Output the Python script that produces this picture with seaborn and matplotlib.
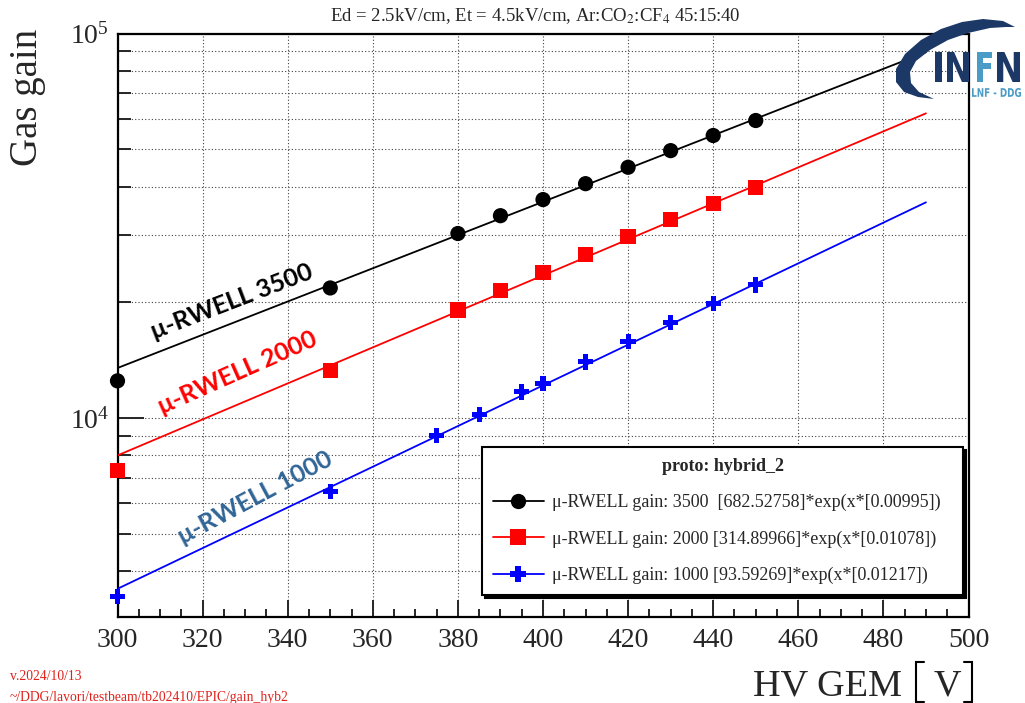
import numpy as np
import pandas as pd
import matplotlib
matplotlib.use("Agg")
import matplotlib.pyplot as plt
import seaborn as sns
from matplotlib.lines import Line2D
from matplotlib.patches import Polygon, PathPatch
from matplotlib.textpath import TextPath
from matplotlib.font_manager import FontProperties
from matplotlib.transforms import Affine2D
from matplotlib.ticker import LogLocator, NullFormatter, MultipleLocator

# ---------------- data ----------------
series_names = ["3500", "2000", "1000"]
x_3500 = [300, 350, 380, 390, 400, 410, 420, 430, 440, 450]
g_3500 = [12500, 21800, 30200, 33600, 37000, 40700, 44900, 49600, 54300, 59400]
x_2000 = [300, 350, 380, 390, 400, 410, 420, 430, 440, 450]
g_2000 = [7300, 13300, 19100, 21500, 23900, 26600, 29600, 32800, 36100, 39700]
x_1000 = [300, 350, 375, 385, 395, 400, 410, 420, 430, 440, 450]
g_1000 = [3430, 6460, 9000, 10200, 11700, 12300, 14000, 15800, 17700, 19900, 22200]

fit_x = [300, 490]
fit_3500 = [13500, 89400]
fit_2000 = [8000, 62000]
fit_1000 = [3600, 36400]

legend_labels = [
    "\u03bc-RWELL gain: 3500  [682.52758]*exp(x*[0.00995])",
    "\u03bc-RWELL gain: 2000 [314.89966]*exp(x*[0.01078])",
    "\u03bc-RWELL gain: 1000 [93.59269]*exp(x*[0.01217])",
]
title_text = r"Ed = 2.5kV/cm, Et = 4.5kV/cm, Ar:CO$_2$:CF$_4$ 45:15:40"
x_ticks = list(range(300, 501, 20))

colors = {"3500": "black", "2000": "#ff0000", "1000": "#0000ff"}
markers = {"3500": "o", "2000": "s", "1000": "P"}

pts = pd.concat([
    pd.DataFrame({"HV": x_3500, "gain": g_3500, "det": "3500"}),
    pd.DataFrame({"HV": x_2000, "gain": g_2000, "det": "2000"}),
    pd.DataFrame({"HV": x_1000, "gain": g_1000, "det": "1000"}),
], ignore_index=True)
fits = pd.concat([
    pd.DataFrame({"HV": fit_x, "gain": fit_3500, "det": "3500"}),
    pd.DataFrame({"HV": fit_x, "gain": fit_2000, "det": "2000"}),
    pd.DataFrame({"HV": fit_x, "gain": fit_1000, "det": "1000"}),
], ignore_index=True)

# ---------------- style ----------------
sns.set_theme(style="white")
plt.rcParams["font.family"] = ["Liberation Serif", "DejaVu Serif"]
plt.rcParams["mathtext.fontset"] = "stix"

W, H = 1025, 703
fig = plt.figure(figsize=(W / 100, H / 100), dpi=100)
fig.patch.set_facecolor("white")
L, R, T, B = 117.5, 968.5, 33.5, 616.5
ax = fig.add_axes([L / W, 1 - B / H, (R - L) / W, (B - T) / H])
ax.set_facecolor("white")

ax.set_yscale("log")
ax.set_xlim(300, 500)
ax.set_ylim(3050, 1e5)

sns.lineplot(data=fits, x="HV", y="gain", hue="det", palette=colors,
             hue_order=series_names, ax=ax, legend=False, linewidth=1.3,
             zorder=3)
sns.scatterplot(data=pts, x="HV", y="gain", hue="det", style="det",
                palette=colors, markers=markers, hue_order=series_names,
                style_order=series_names, s=120, linewidth=0,
                ax=ax, legend=False, zorder=4, clip_on=False)

# axes, ticks, grid
for side in ["left", "bottom", "top", "right"]:
    ax.spines[side].set_visible(True)
    ax.spines[side].set_linewidth(1.6)
    ax.spines[side].set_color("black")

ax.set_xticks(x_ticks)
ax.xaxis.set_minor_locator(MultipleLocator(5))
ax.yaxis.set_major_locator(LogLocator(base=10))
ax.yaxis.set_minor_locator(LogLocator(base=10, subs=np.arange(2, 10)))
ax.yaxis.set_minor_formatter(NullFormatter())

ax.tick_params(axis="x", which="major", direction="in", length=12, width=1.4,
               labelsize=20, pad=8, bottom=True, top=False)
ax.tick_params(axis="x", which="minor", direction="in", length=6, width=1.4,
               bottom=True, top=False)
ax.tick_params(axis="y", which="major", direction="in", length=19, width=1.4,
               labelsize=20, pad=6, left=True, right=False)
ax.tick_params(axis="y", which="minor", direction="in", length=9.5, width=1.4,
               left=True, right=False)

ax.grid(True, which="major", axis="x", color="0.25", linestyle=(0, (1, 2)), linewidth=0.8)
ax.grid(True, which="both", axis="y", color="0.25", linestyle=(0, (1, 2)), linewidth=0.8)
ax.set_axisbelow(True)
ax.set_xlabel("")
ax.set_ylabel("")

# title
fig.text(535 / W, 1 - 16 / H, title_text, ha="center", va="center", fontsize=13.5)

# axis titles
fig.text(28 / W, 1 - 29 / H, "Gas gain", rotation=90, ha="center", va="top", fontsize=28)
fig.text(902 / W, 1 - 695 / H, "HV GEM", ha="right", va="baseline", fontsize=27.5)
fig.text(947 / W, 1 - 695 / H, "V", ha="center", va="baseline", fontsize=27.5)

# annotations
ann_font = ["Lato", "Open Sans", "DejaVu Sans"]
fig.text(232 / W, 1 - 302 / H, "\u03bc-RWELL 3500", rotation=21, ha="center", va="center",
         fontsize=18, fontweight="bold", color="black", family=ann_font)
fig.text(238 / W, 1 - 373 / H, "\u03bc-RWELL 2000", rotation=24, ha="center", va="center",
         fontsize=18, fontweight="bold", color="#ff0000", family=ann_font)
fig.text(255 / W, 1 - 498 / H, "\u03bc-RWELL 1000", rotation=28, ha="center", va="center",
         fontsize=18, fontweight="bold", color="#2f6496", family=ann_font)

# footer
fig.text(10 / W, 1 - 676 / H, "v.2024/10/13", ha="left", va="center", fontsize=9.8, color="#e0201b")
fig.text(10 / W, 1 - 697 / H, "~/DDG/lavori/testbeam/tb202410/EPIC/gain_hyb2", ha="left",
         va="center", fontsize=9.8, color="#e0201b")

# legend
handles = [Line2D([0], [0], color=colors[n], marker=markers[n], markersize=11,
                  markeredgewidth=0, linewidth=1.3) for n in series_names]
x0, x1, y0, y1 = 482, 963, 447, 592
leg = ax.legend(handles, legend_labels, title="proto: hybrid_2",
                loc="upper left", bbox_to_anchor=(x0 / W, 1 - y0 / H, (x1 - x0) / W, 0),
                bbox_transform=fig.transFigure, mode="expand",
                fontsize=13, title_fontproperties={"weight": "bold", "size": 13},
                frameon=True, fancybox=False, edgecolor="black", framealpha=1,
                shadow={"color": "black", "alpha": 1}, borderpad=0.62,
                labelspacing=1.05, handlelength=2.8, handletextpad=0.45,
                borderaxespad=0)
leg.get_frame().set_linewidth(1.5)
leg.set_zorder(10)

# overlay for logo and brackets (pixel coords)
ov = fig.add_axes([0, 0, 1, 1], zorder=20)
ov.set_xlim(0, W)
ov.set_ylim(H, 0)
ov.axis("off")
ov.patch.set_alpha(0)

# brackets around V
for bx, d in [(916, 1), (972, -1)]:
    ov.plot([bx + 8 * d, bx, bx, bx + 8 * d], [662, 662, 702, 702], color="black",
            linewidth=1.5, solid_joinstyle="miter")

# INFN logo
navy = "#1c3867"
light = "#4a9bc6"
outer = [(1015, 27), (1003, 21), (983, 19), (962, 22), (941, 29), (921, 40), (905, 54),
         (896, 69), (896, 82), (904, 92), (918, 97), (934, 99)]
inner = [(934, 99), (919, 92), (911, 83), (910, 72), (916, 61), (930, 50), (948, 40),
         (968, 33), (990, 28), (1006, 27), (1015, 27)]
ov.add_patch(Polygon(outer + inner, closed=True, facecolor=navy, edgecolor="none"))


def letter(s, box, color, family="DejaVu Sans", weight="normal"):
    tp = TextPath((0, 0), s, size=100, prop=FontProperties(family=family, weight=weight))
    ext = tp.get_extents()
    bx0, bx1, by0, by1 = box
    sx = (bx1 - bx0) / ext.width
    sy = (by1 - by0) / ext.height
    tr = Affine2D().translate(-ext.x0, -ext.y0).scale(sx, -sy).translate(bx0, by1)
    ov.add_patch(PathPatch(tr.transform_path(tp), facecolor=color, edgecolor="none"))


letter("I", (935, 942, 52, 82), navy, weight="bold")
letter("N", (947, 969, 52, 82), navy, weight="bold")
letter("F", (977, 992, 52, 82), light, weight="bold")
letter("N", (997, 1020, 52, 82), navy, weight="bold")
letter("LNF - DDG", (972, 1021, 88, 97), light, family="DejaVu Sans", weight="bold")

fig.savefig("out.png", dpi=100, facecolor="white")
